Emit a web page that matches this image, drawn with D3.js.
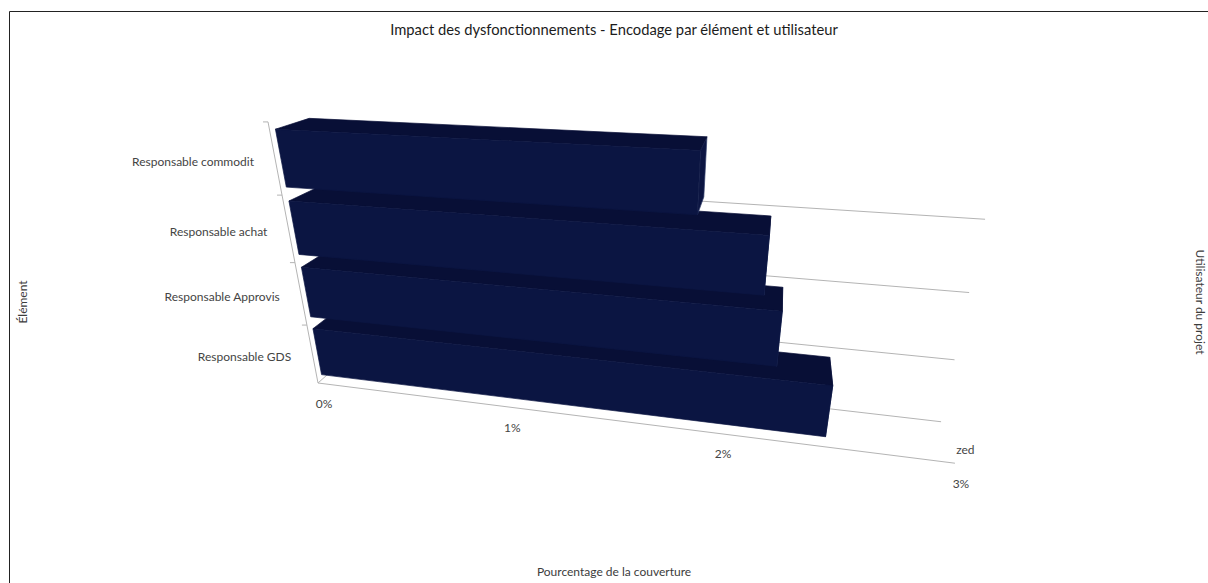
<!DOCTYPE html>
<html lang="fr">
<head>
<meta charset="utf-8">
<title>Impact des dysfonctionnements</title>
<script src="https://cdn.jsdelivr.net/npm/d3@7/dist/d3.min.js"></script>
<style>
  html, body { margin: 0; padding: 0; background: #fff; overflow: hidden; }
  svg { display: block; font-family: Lato, sans-serif; }
  .frame { fill: none; stroke: #222; stroke-width: 1; }
  .axis-line { fill: none; stroke: #b4b4b4; stroke-width: 1; }
  .title { font-size: 14.75px; fill: #1c1c1c; text-anchor: middle; }
  .axis-title { font-size: 12px; fill: #3c3c3c; text-anchor: middle; }
  .tick-label { font-size: 12px; fill: #444; }
  .bar-face { stroke-width: 0.7; stroke-linejoin: round; }
</style>
</head>
<body>
<svg id="chart" width="1208" height="583"></svg>
<script>
// Chart content
const chartTitle = "Impact des dysfonctionnements - Encodage par élément et utilisateur";
const valueAxisTitle = "Pourcentage de la couverture";
const categoryAxisTitle = "Élément";
const depthAxisTitle = "Utilisateur du projet";
const categories = ["Responsable commodit", "Responsable achat", "Responsable Approvis", "Responsable GDS"];
const coverage = [1.86, 2.15, 2.23, 2.47];
const series = ["zed"];
const valueTicks = [0, 1, 2, 3];

// Scene axes, all normalised to the unit cube before projection
const xScale = d3.scaleLinear().domain([0, 3]).range([0, 1]);
const yBand = d3.scaleBand().domain(categories.slice().reverse()).range([0, 1])
  .paddingInner(0.2).paddingOuter(0.1).align(0.4);
const zBand = d3.scaleBand().domain(series).range([0, 1]).paddingOuter(0.121).align(0.64);

// Perspective camera: image of the origin plus the three axis directions (x, y, w)
const origin = [318, 383, 1];
const axisX = [483.2, 5.63, -0.161];
const axisY = [-88.7, -278.7, -0.1445];
const axisZ = [59.9, -2.74, 0.076];
function project(x, y, z) {
  const h = origin.map((o, i) => o + x * axisX[i] + y * axisY[i] + z * axisZ[i]);
  return [h[0] / h[2], h[1] / h[2]];
}

const svg = d3.select("#chart");
const polyline = d3.line();

// Chart frame: top and left edges only
svg.append("path").attr("class", "frame").attr("d", "M9.5,583V11.5H1208");

// Floor edges, category axis and its ticks
const axes = svg.append("g");
axes.append("path").attr("class", "axis-line")
  .attr("d", polyline([project(0, 0, 0), project(1, 0, 0)]));
axes.append("path").attr("class", "axis-line")
  .attr("d", polyline([project(0, 1, 0), project(0, 0, 0), project(0, 0, 1)]));

const rowEdges = d3.range(categories.length + 1).map(i => i / categories.length);
axes.selectAll("path.tick").data(rowEdges.slice(1)).join("path")
  .attr("class", "axis-line tick")
  .attr("d", y => {
    const p = project(0, y, 0);
    return polyline([[p[0] - 5, p[1]], p]);
  });

// Back-wall lines, one for each row boundary below the top
axes.selectAll("path.wall").data(rowEdges.slice(0, -1)).join("path")
  .attr("class", "axis-line wall")
  .attr("d", y => polyline([project(0, y, 1), project(1, y, 1)]));

// Bars: the lowest row first, so upper rows overlap the tops behind them
const z0 = zBand(series[0]);
const z1 = z0 + zBand.bandwidth();
const rows = categories.map((name, i) => ({ name, value: coverage[i] })).reverse();

const bars = svg.append("g").selectAll("g").data(rows).join("g");

function face(d, corners) {
  const x = xScale(d.value);
  const y0 = yBand(d.name);
  const y1 = y0 + yBand.bandwidth();
  return polyline(corners.map(([cx, cy, cz]) =>
    project(cx ? x : 0, cy ? y1 : y0, cz ? z1 : z0))) + "Z";
}

// The end cap carries a paler rim; the top and front faces cover its inner half
bars.append("path").attr("class", "bar-face").attr("fill", "#0c1542").attr("stroke", "#2f3c68")
  .attr("d", d => face(d, [[1, 0, 0], [1, 1, 0], [1, 1, 1], [1, 0, 1]]));
bars.append("path").attr("class", "bar-face").attr("fill", "#080f36").attr("stroke", "#080f36")
  .attr("d", d => face(d, [[0, 1, 0], [1, 1, 0], [1, 1, 1], [0, 1, 1]]));
bars.append("path").attr("class", "bar-face").attr("fill", "#0b1542").attr("stroke", "#0b1542")
  .attr("d", d => face(d, [[0, 0, 0], [1, 0, 0], [1, 1, 0], [0, 1, 0]]));

// Category labels, at the middle of each row
svg.append("g").selectAll("text").data(categories).join("text")
  .attr("class", "tick-label")
  .attr("text-anchor", "end")
  .attr("x", d => project(0, yBand(d) + yBand.bandwidth() / 2, 0)[0] - 21.5)
  .attr("y", d => project(0, yBand(d) + yBand.bandwidth() / 2, 0)[1] + 5)
  .text(d => d);

// Value tick labels along the front floor edge
svg.append("g").selectAll("text").data(valueTicks).join("text")
  .attr("class", "tick-label")
  .attr("text-anchor", "middle")
  .attr("x", d => project(xScale(d), 0, 0)[0] + 6)
  .attr("y", d => project(xScale(d), 0, 0)[1] + 25)
  .text(d => d + "%");

// Series label on the depth axis
svg.append("g").selectAll("text").data(series).join("text")
  .attr("class", "tick-label")
  .attr("text-anchor", "middle")
  .attr("x", d => project(1, 0, zBand(d) + zBand.bandwidth() / 2)[0] + 18)
  .attr("y", d => project(1, 0, zBand(d) + zBand.bandwidth() / 2)[1] + 14)
  .text(d => d);

// Titles
svg.append("text").attr("class", "title").attr("x", 614).attr("y", 35).text(chartTitle);
svg.append("text").attr("class", "axis-title").attr("x", 614).attr("y", 576).text(valueAxisTitle);
svg.append("text").attr("class", "axis-title")
  .attr("transform", "translate(27,302) rotate(-90)").text(categoryAxisTitle);
svg.append("text").attr("class", "axis-title")
  .attr("transform", "translate(1196,302) rotate(90)").text(depthAxisTitle);
</script>
</body>
</html>
